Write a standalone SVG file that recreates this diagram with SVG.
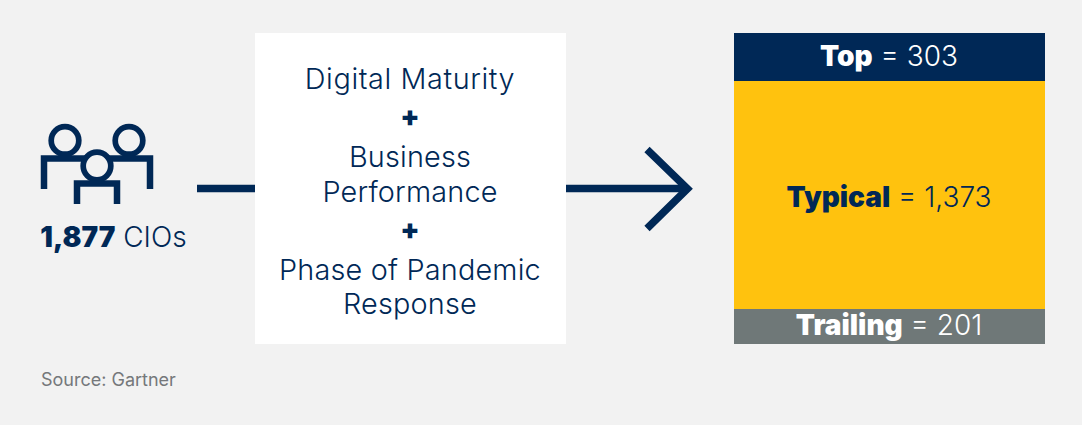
<svg xmlns="http://www.w3.org/2000/svg" width="1082" height="425" viewBox="0 0 1082 425">
<style>
text{font-family:"Inter","Liberation Sans",sans-serif;text-anchor:middle;fill:#002856}
.m{font-size:28.8px;font-weight:350;letter-spacing:.2px}
.p{font-size:28px;font-weight:900}
.r{font-size:28px;font-weight:300}
.b{font-weight:900}
.w{fill:#fff}
.ln{fill:none;stroke:#002856;stroke-width:6.5}
.c{fill:none;stroke:#002856;stroke-width:5.7}
</style>
<rect width="1082" height="425" fill="#f2f2f2"/>
<g id="connectors">
<path d="M197 188.500H255" fill="none" stroke="#002856" stroke-width="7.500"/>
<path d="M566 188.500H688" fill="none" stroke="#002856" stroke-width="7.500"/>
<path d="M647 149.500L687.500 188.700L647 228.500" fill="none" stroke="#002856" stroke-width="7.500"/>
</g>
<g id="cios">
<circle class="c" cx="65" cy="140.400" r="13.800"/>
<circle class="c" cx="129" cy="140.400" r="13.800"/>
<path class="ln" d="M44 189V158.500H150V189"/>
<circle class="c" cx="97" cy="166" r="13.800" style="fill:#f2f2f2"/>
<path class="ln" d="M77 204V183.500H117V204"/>
<text class="r" x="113.500" y="247"><tspan class="b">1,877</tspan> CIOs</text>
</g>
<g id="criteria">
<rect x="255" y="33" width="311" height="311" fill="#fff"/>
<text class="m" x="410" y="89" style="letter-spacing:.6px">Digital Maturity</text>
<text class="p" x="410" y="126">+</text>
<text class="m" x="410" y="167">Business</text>
<text class="m" x="410" y="202">Performance</text>
<text class="p" x="410" y="239">+</text>
<text class="m" x="410" y="280">Phase of Pandemic</text>
<text class="m" x="410" y="314">Response</text>
</g>
<g id="top">
<rect x="734" y="33" width="311" height="48" fill="#002856"/>
<text class="r w" x="889" y="66"><tspan class="b">Top</tspan> = 303</text>
</g>
<g id="typical">
<rect x="734" y="81" width="311" height="228" fill="#ffc20e"/>
<text class="r" x="889" y="207"><tspan class="b">Typical</tspan> = 1,373</text>
</g>
<g id="trailing">
<rect x="734" y="309" width="311" height="35" fill="#6f7878"/>
<text class="r w" x="889" y="335"><tspan class="b">Trailing</tspan> = 201</text>
</g>
<text x="41" y="385.500" style="font-size:18px;font-weight:400;text-anchor:start;fill:#75787b">Source: Gartner</text>
</svg>
